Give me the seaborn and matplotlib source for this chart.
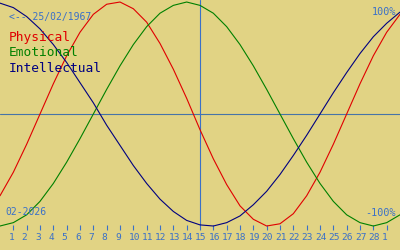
import matplotlib
matplotlib.use("Agg")
import matplotlib.pyplot as plt
from matplotlib.transforms import ScaledTranslation
import seaborn as sns
import pandas as pd

# ---- data (day index 0..30, day 1 = 01/02/2026) ----
days = list(range(0, 31))
physical = [-0.73, -0.52, -0.27, 0.00, 0.27, 0.52, 0.73, 0.89, 0.98, 1.00,
            0.94, 0.82, 0.63, 0.40, 0.14, -0.14, -0.40, -0.63, -0.82, -0.94,
            -1.00, -0.98, -0.89, -0.73, -0.52, -0.27, 0.00, 0.27, 0.52, 0.73, 0.89]
emotional = [-1.00, -0.97, -0.90, -0.78, -0.62, -0.43, -0.22, 0.00, 0.22, 0.43,
             0.62, 0.78, 0.90, 0.97, 1.00, 0.97, 0.90, 0.78, 0.62, 0.43,
             0.22, 0.00, -0.22, -0.43, -0.62, -0.78, -0.90, -0.97, -1.00, -0.97, -0.90]
intellectual = [0.99, 0.95, 0.87, 0.76, 0.62, 0.46, 0.28, 0.10, -0.10, -0.28,
                -0.46, -0.62, -0.76, -0.87, -0.95, -0.99, -1.00, -0.97, -0.91, -0.81,
                -0.69, -0.54, -0.37, -0.19, 0.00, 0.19, 0.37, 0.54, 0.69, 0.81, 0.91]
tick_days = list(range(1, 30))
tick_labels = [str(d) for d in range(1, 29)] + ["1"]
series_names = ["Physical", "Emotional", "Intellectual"]
today = 15
birth_label = "<-- 25/02/1967"
month_label = "02-2026"

BG = "#E1D384"
BLUE = "#3A70C8"
HLINE = "#4674A8"
colors = {"Physical": "#E00000", "Emotional": "#008000", "Intellectual": "#000080"}

df = pd.concat([
    pd.DataFrame({"day": days, "value": physical, "series": "Physical"}),
    pd.DataFrame({"day": days, "value": emotional, "series": "Emotional"}),
    pd.DataFrame({"day": days, "value": intellectual, "series": "Intellectual"}),
])

sns.set_style("white", {"axes.facecolor": BG, "figure.facecolor": BG})
plt.rcParams["font.family"] = ["DejaVu Sans Mono"]

fig = plt.figure(figsize=(4, 2.5), dpi=100)
fig.patch.set_facecolor(BG)
ax = fig.add_axes([0, 0.1, 1, 0.9])
ax.set_facecolor(BG)

ax.axhline(0.0, color=HLINE, lw=0.8, zorder=1)
ax.axvline(today, color=BLUE, lw=0.8, zorder=1)

sns.lineplot(data=df, x="day", y="value", hue="series", palette=colors,
             hue_order=series_names, legend=False, ax=ax, linewidth=0.8,
             sort=False, estimator=None, zorder=2)
for line in ax.get_lines():
    line.set_clip_on(False)

ax.set_xlim(0, 30)
ax.set_ylim(-0.991, 1.018)
ax.set_xticks(tick_days)
ax.set_xticklabels(tick_labels)
ax.set_yticks([])
ax.set_xlabel("")
ax.set_ylabel("")
ax.tick_params(axis="x", direction="out", length=3.8, width=0.8, color=BLUE,
               labelcolor=BLUE, labelsize=6.8, pad=1.8, bottom=True)
shift = ScaledTranslation(-5 / 100, 0, fig.dpi_scale_trans)
for lbl in ax.get_xticklabels():
    lbl.set_ha("left")
    lbl.set_transform(lbl.get_transform() + shift)
for s in ax.spines.values():
    s.set_visible(False)

fig.text(9 / 400, 1 - 17 / 250, birth_label, color=BLUE, fontsize=7.0,
         ha="left", va="center")
for i, name in enumerate(series_names):
    fig.text(9 / 400, 1 - (38 + 15 * i) / 250, name, color=colors[name],
             fontsize=9.3, ha="left", va="center")
fig.text(5 / 400, 1 - 212 / 250, month_label, color=BLUE, fontsize=7.0,
         ha="left", va="center")
fig.text(396 / 400, 1 - 12 / 250, "100%", color=BLUE, fontsize=7.3,
         ha="right", va="center")
fig.text(396 / 400, 1 - 213 / 250, "-100%", color=BLUE, fontsize=7.3,
         ha="right", va="center")

fig.savefig("out.png", dpi=100, facecolor=BG)
